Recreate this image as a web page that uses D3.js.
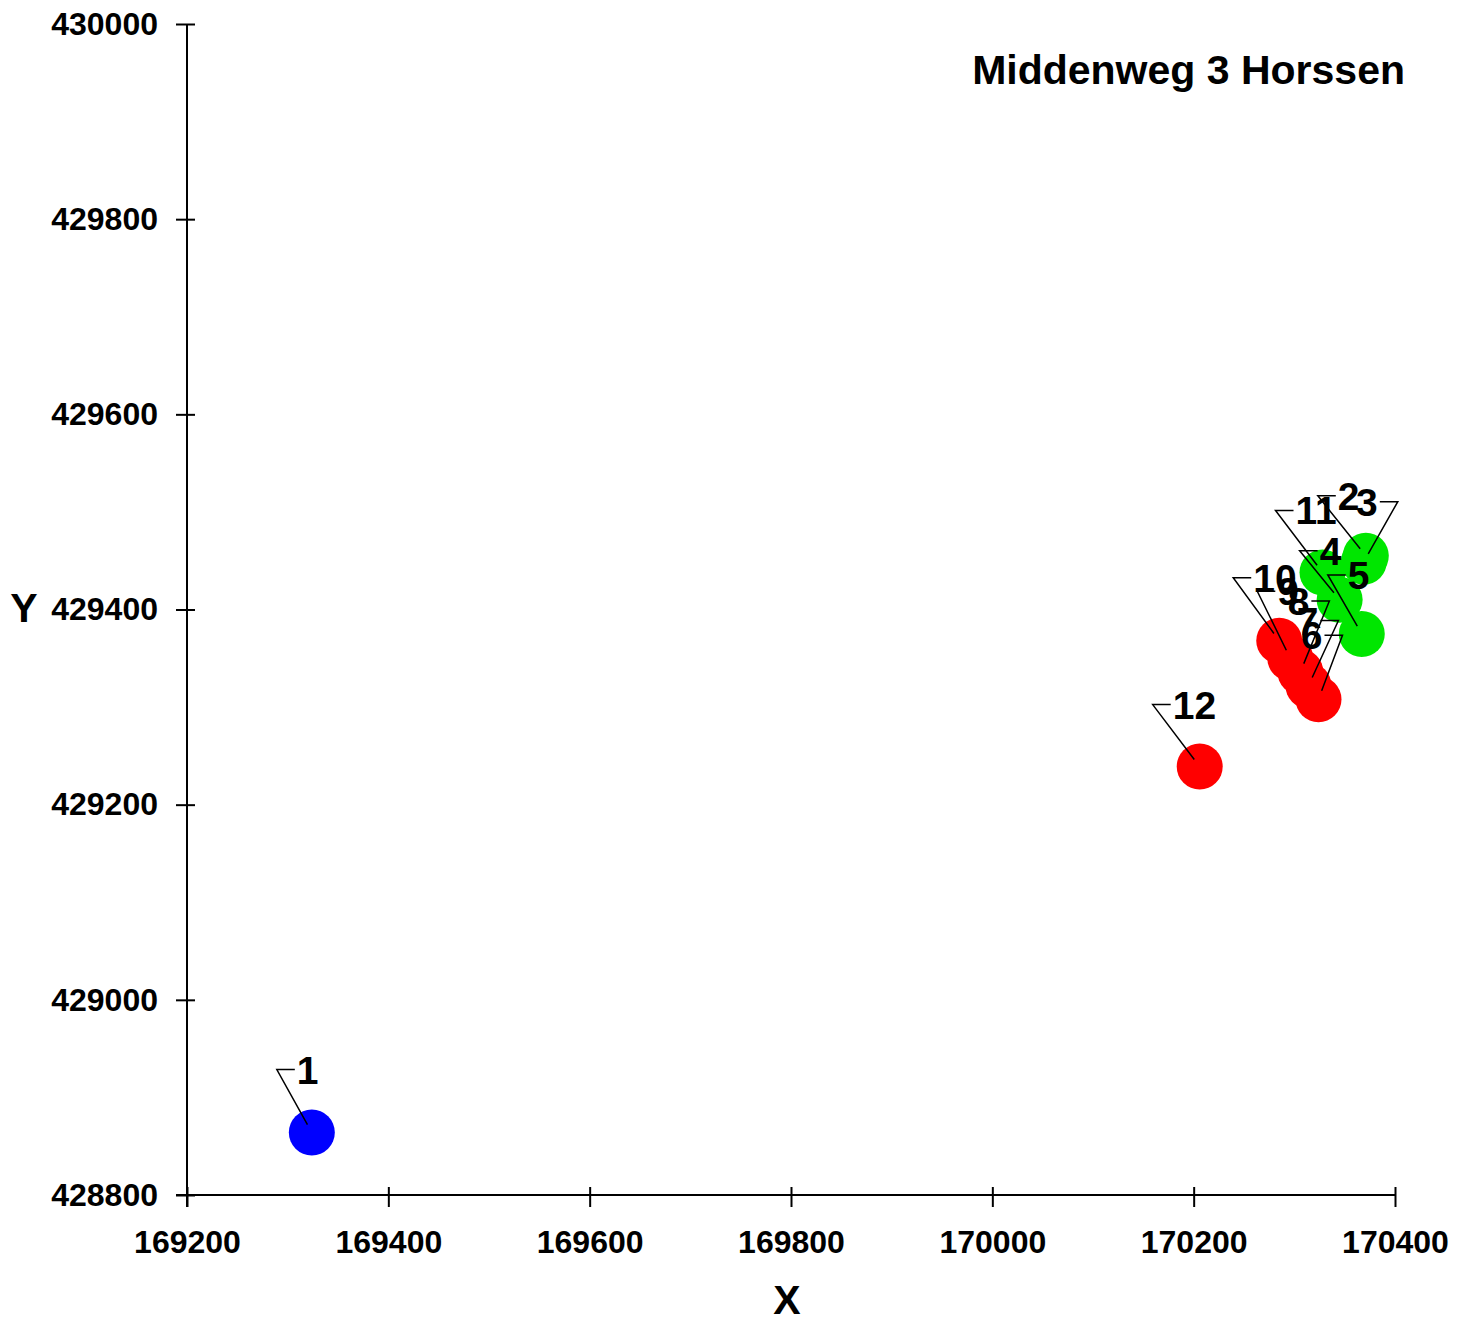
<!DOCTYPE html>
<html>
<head>
<meta charset="utf-8">
<script src="https://cdn.jsdelivr.net/npm/d3@7"></script>
<style>
  body { margin: 0; background: #fff; }
  text { font-family: "Liberation Sans", Arial, sans-serif; font-weight: bold; fill: #000; }
</style>
</head>
<body>
<div id="chart"></div>
<script>
const width = 1468, height = 1321;

// measured points
const ptId = [1, 2, 3, 4, 5, 6, 7, 8, 9, 10, 11, 12];
const ptX = [169324, 170371, 170369, 170345, 170367, 170324, 170314, 170306, 170296, 170285, 170328, 170206];
const ptY = [428864, 429455, 429449, 429410, 429375, 429308, 429322, 429336, 429350, 429368, 429438, 429239];
const ptGroup = ['start', 'in', 'in', 'in', 'in', 'out', 'out', 'out', 'out', 'out', 'in', 'out'];

const xTicks = [169200, 169400, 169600, 169800, 170000, 170200, 170400];
const yTicks = [428800, 429000, 429200, 429400, 429600, 429800, 430000];

const title = 'Middenweg 3 Horssen';

// label callout layout (pixel offset of the leader corner from the point, side of the text)
const labDx = [-35, -48, 34, -40, -34, 24, 30, 29, -33, -46, -47, -47];
const labDy = [-63, -60, -60, -49, -59, -64, -65, -71, -67, -63, -62, -62];
const labSide = ['l', 'l', 'r', 'l', 'l', 'r', 'r', 'r', 'l', 'l', 'l', 'l'];

const colors = { start: '#0000ff', in: '#00e600', out: '#ff0000' };

const x = d3.scaleLinear().domain([169200, 170400]).range([187, 1395]);
const y = d3.scaleLinear().domain([428800, 430000]).range([1195, 24]);

const svg = d3.select('#chart').append('svg')
    .attr('width', width).attr('height', height);

// axes
const gx = svg.append('g').attr('transform', `translate(0,${y(428800)})`)
    .call(d3.axisBottom(x).tickValues(xTicks).tickSize(12).tickPadding(23).tickFormat(d3.format('d')));
const gy = svg.append('g').attr('transform', `translate(${x(169200)},0)`)
    .call(d3.axisLeft(y).tickValues(yTicks).tickSize(11).tickPadding(18).tickFormat(d3.format('d')));

[gx, gy].forEach(g => {
    g.select('.domain').remove();
    g.selectAll('.tick line').attr('stroke', '#000').attr('stroke-width', 2);
    g.selectAll('.tick text').style('font-size', '32px').attr('fill', '#000');
});
gx.selectAll('.tick line').attr('y1', -8);
gy.selectAll('.tick line').attr('x1', 8);
gx.selectAll('.tick text').attr('dy', '0.71em');

svg.append('line')
    .attr('x1', x(169200) - 11).attr('x2', x(170400))
    .attr('y1', y(428800)).attr('y2', y(428800))
    .attr('stroke', '#000').attr('stroke-width', 2);
svg.append('line')
    .attr('x1', x(169200)).attr('x2', x(169200))
    .attr('y1', y(430000)).attr('y2', y(428800) + 12)
    .attr('stroke', '#000').attr('stroke-width', 2);

svg.append('text').attr('x', 787).attr('y', 1314)
    .attr('text-anchor', 'middle').style('font-size', '41px').text('X');
svg.append('text').attr('x', 24).attr('y', 622)
    .attr('text-anchor', 'middle').style('font-size', '41px').text('Y');

svg.append('text').attr('x', 1405).attr('y', 84)
    .attr('text-anchor', 'end').style('font-size', '41px').text(title);

const pts = ptId.map((id, i) => ({
    id, x: ptX[i], y: ptY[i], g: ptGroup[i],
    dx: labDx[i], dy: labDy[i], side: labSide[i]
}));

// circles
svg.append('g').selectAll('circle').data(pts).enter().append('circle')
    .attr('cx', d => x(d.x)).attr('cy', d => y(d.y))
    .attr('r', 23)
    .attr('fill', d => colors[d.g]);

// leaders + labels
const lab = svg.append('g').selectAll('g').data(pts).enter().append('g');

const leader = d => {
    const px = x(d.x), py = y(d.y);
    const cx = px + d.dx, cy = py + d.dy;
    const len = Math.hypot(d.dx, d.dy);
    const ex = px + 9 * d.dx / len, ey = py + 9 * d.dy / len;
    const hx = d.side === 'l' ? cx + 18 : cx - 18;
    return `M${hx},${cy}L${cx},${cy}L${ex},${ey}`;
};

lab.append('path')
    .attr('d', leader)
    .attr('fill', 'none')
    .attr('stroke', '#000')
    .attr('stroke-width', 1.5);

lab.append('text')
    .attr('x', d => x(d.x) + d.dx + (d.side === 'l' ? 20 : -20))
    .attr('y', d => y(d.y) + d.dy + 14)
    .attr('text-anchor', d => d.side === 'l' ? 'start' : 'end')
    .style('font-size', '39px')
    .text(d => d.id);
</script>
</body>
</html>
